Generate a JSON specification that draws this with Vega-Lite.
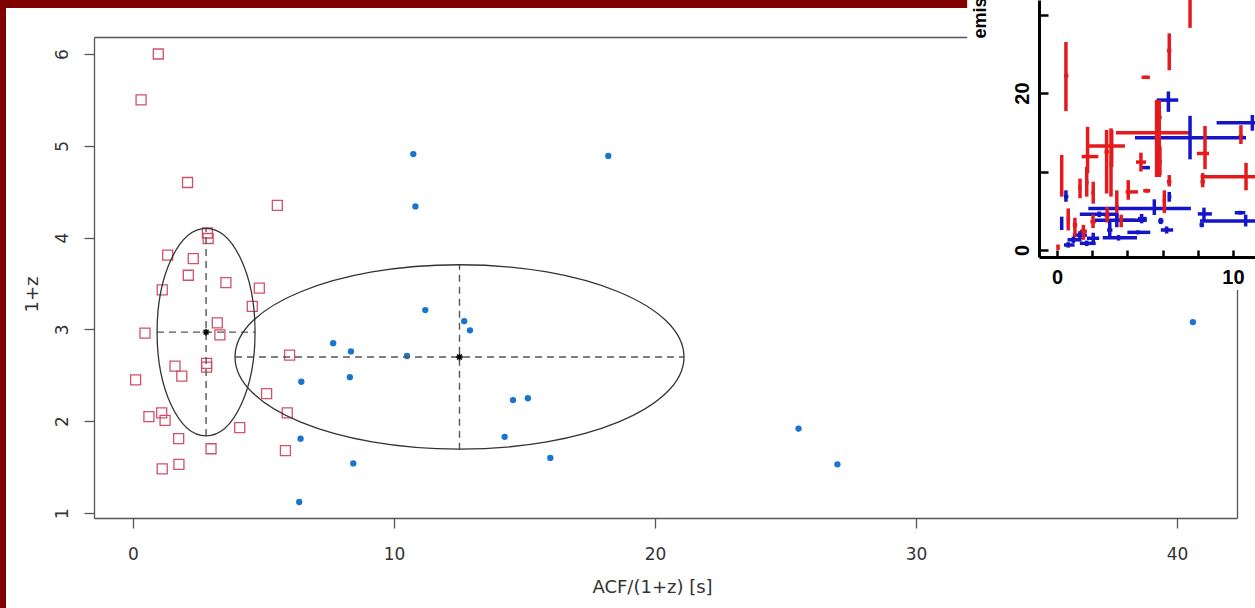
{
  "$schema": "https://vega.github.io/schema/vega-lite/v6.json",
  "width": 1249,
  "height": 600,
  "autosize": {"type": "none"},
  "padding": {"left": 6, "top": 8, "right": 0, "bottom": 0},
  "background": "#800000",
  "config": {"view": {"fill": "white", "stroke": null}, "axis": {"grid": false}},
  "datasets": {
    "red": [
      {"x": 0.97, "y": 6.0}, {"x": 0.31, "y": 5.5}, {"x": 2.09, "y": 4.6}, {"x": 5.53, "y": 4.35},
      {"x": 2.85, "y": 4.05}, {"x": 2.88, "y": 3.99}, {"x": 1.33, "y": 3.81}, {"x": 2.31, "y": 3.77},
      {"x": 2.12, "y": 3.59}, {"x": 3.56, "y": 3.51}, {"x": 4.84, "y": 3.45}, {"x": 1.12, "y": 3.43},
      {"x": 4.57, "y": 3.25}, {"x": 3.23, "y": 3.07}, {"x": 0.46, "y": 2.96}, {"x": 3.33, "y": 2.94},
      {"x": 6.0, "y": 2.72}, {"x": 2.82, "y": 2.63}, {"x": 2.82, "y": 2.59}, {"x": 1.61, "y": 2.6},
      {"x": 1.87, "y": 2.49}, {"x": 0.1, "y": 2.45}, {"x": 5.12, "y": 2.3}, {"x": 5.91, "y": 2.09},
      {"x": 1.1, "y": 2.09}, {"x": 0.61, "y": 2.05}, {"x": 1.23, "y": 2.01}, {"x": 4.09, "y": 1.93},
      {"x": 1.75, "y": 1.81}, {"x": 2.99, "y": 1.7}, {"x": 5.84, "y": 1.68}, {"x": 1.76, "y": 1.53},
      {"x": 1.12, "y": 1.48}
    ],
    "blue": [
      {"x": 7.67, "y": 2.85}, {"x": 8.35, "y": 2.76}, {"x": 10.5, "y": 2.71}, {"x": 6.45, "y": 2.43},
      {"x": 8.31, "y": 2.48}, {"x": 6.42, "y": 1.81}, {"x": 8.44, "y": 1.54}, {"x": 6.37, "y": 1.12},
      {"x": 10.74, "y": 4.91}, {"x": 18.21, "y": 4.89}, {"x": 10.82, "y": 4.34}, {"x": 11.2, "y": 3.21},
      {"x": 12.69, "y": 3.09}, {"x": 12.91, "y": 2.99}, {"x": 14.56, "y": 2.23}, {"x": 15.13, "y": 2.25},
      {"x": 14.24, "y": 1.83}, {"x": 15.99, "y": 1.6}, {"x": 25.5, "y": 1.92}, {"x": 26.99, "y": 1.53},
      {"x": 40.61, "y": 3.08}
    ],
    "dash": [
      {"x": 2.8, "x2": 2.8, "y": 1.84, "y2": 4.1},
      {"x": 0.92, "x2": 4.67, "y": 2.97, "y2": 2.97},
      {"x": 3.91, "x2": 21.11, "y": 2.7, "y2": 2.7},
      {"x": 12.51, "x2": 12.51, "y": 1.69, "y2": 3.7}
    ],
    "c1": [{"x": 2.8, "y": 2.97}],
    "c2": [{"x": 12.51, "y": 2.7}],
    "centers": [{"x": 2.8, "y": 2.97}, {"x": 12.51, "y": 2.7}],
    "ins": [
      {"s": "red", "x": 0.51, "xlo": 0.4, "xhi": 0.65, "y": 22.2, "ylo": 17.7, "yhi": 26.5},
      {"s": "red", "x": 7.56, "xlo": 7.56, "xhi": 7.56, "y": 33, "ylo": 28.3, "yhi": 38},
      {"s": "red", "x": 6.38, "xlo": 6.25, "xhi": 6.5, "y": 25.4, "ylo": 22.9, "yhi": 27.6},
      {"s": "red", "x": 5.05, "xlo": 4.81, "xhi": 5.28, "y": 22.0, "ylo": 21.8, "yhi": 22.2},
      {"s": "red", "x": 5.66, "xlo": 3.35, "xhi": 7.52, "y": 14.95, "ylo": 9.3, "yhi": 19.1},
      {"s": "red", "x": 5.81, "xlo": 5.7, "xhi": 5.95, "y": 16.9, "ylo": 9.3, "yhi": 19.1},
      {"s": "red", "x": 8.41, "xlo": 7.95, "xhi": 8.64, "y": 12.3, "ylo": 10.3, "yhi": 15.8},
      {"s": "red", "x": 10.45, "xlo": 10.3, "xhi": 10.6, "y": 14.4, "ylo": 13.5, "yhi": 15.9},
      {"s": "red", "x": 10.74, "xlo": 8.16, "xhi": 12.5, "y": 9.34, "ylo": 7.6, "yhi": 11.1},
      {"s": "red", "x": 8.28, "xlo": 8.15, "xhi": 8.4, "y": 8.7, "ylo": 8.0, "yhi": 9.8},
      {"s": "red", "x": 3.11, "xlo": 1.78, "xhi": 3.86, "y": 13.25, "ylo": 10.6, "yhi": 15.3},
      {"s": "red", "x": 2.82, "xlo": 2.7, "xhi": 2.95, "y": 12.5, "ylo": 7.2, "yhi": 15.3},
      {"s": "red", "x": 3.07, "xlo": 3.0, "xhi": 3.15, "y": 11.0, "ylo": 6.8, "yhi": 15.5},
      {"s": "red", "x": 1.74, "xlo": 1.4, "xhi": 2.35, "y": 11.9, "ylo": 9.8, "yhi": 15.7},
      {"s": "red", "x": 0.27, "xlo": 0.27, "xhi": 0.27, "y": 9.0, "ylo": 6.8, "yhi": 12.1},
      {"s": "red", "x": 1.31, "xlo": 1.2, "xhi": 1.4, "y": 8.0, "ylo": 6.6, "yhi": 9.1},
      {"s": "red", "x": 1.69, "xlo": 1.6, "xhi": 1.8, "y": 8.6, "ylo": 6.8, "yhi": 10.6},
      {"s": "red", "x": 2.06, "xlo": 1.95, "xhi": 2.15, "y": 7.3, "ylo": 5.9, "yhi": 8.7},
      {"s": "red", "x": 4.77, "xlo": 4.49, "xhi": 5.06, "y": 11.2, "ylo": 10.0, "yhi": 12.4},
      {"s": "red", "x": 5.85, "xlo": 5.75, "xhi": 5.95, "y": 11.25, "ylo": 9.55, "yhi": 13.2},
      {"s": "red", "x": 6.38, "xlo": 6.25, "xhi": 6.5, "y": 8.7, "ylo": 8.1, "yhi": 9.55},
      {"s": "red", "x": 4.05, "xlo": 3.9, "xhi": 4.6, "y": 7.4, "ylo": 6.4, "yhi": 8.9},
      {"s": "red", "x": 5.1, "xlo": 4.9, "xhi": 5.3, "y": 7.55, "ylo": 7.3, "yhi": 7.8},
      {"s": "red", "x": 6.1, "xlo": 6.0, "xhi": 6.2, "y": 6.3, "ylo": 4.7, "yhi": 7.6},
      {"s": "red", "x": 0.64, "xlo": 0.55, "xhi": 0.75, "y": 4.0, "ylo": 2.5, "yhi": 5.3},
      {"s": "red", "x": 1.02, "xlo": 0.9, "xhi": 1.15, "y": 3.2, "ylo": 1.6, "yhi": 4.1},
      {"s": "red", "x": 1.5, "xlo": 1.3, "xhi": 1.7, "y": 2.4, "ylo": 1.3, "yhi": 3.2},
      {"s": "red", "x": 2.05, "xlo": 1.9, "xhi": 2.2, "y": 3.6, "ylo": 2.8, "yhi": 4.5},
      {"s": "red", "x": 2.85, "xlo": 2.7, "xhi": 3.0, "y": 4.4, "ylo": 3.5, "yhi": 5.5},
      {"s": "red", "x": 3.4, "xlo": 3.3, "xhi": 3.5, "y": 5.5, "ylo": 4.1, "yhi": 7.6},
      {"s": "red", "x": 0.06, "xlo": 0.0, "xhi": 0.1, "y": 0.3, "ylo": 0.0, "yhi": 0.7},
      {"s": "red", "x": 3.65, "xlo": 3.3, "xhi": 4.45, "y": 3.8, "ylo": 2.9, "yhi": 4.5},
      {"s": "blue", "x": 0.51, "xlo": 0.4, "xhi": 0.65, "y": 6.8, "ylo": 6.15, "yhi": 7.6},
      {"s": "blue", "x": 6.33, "xlo": 5.66, "xhi": 6.89, "y": 19.1, "ylo": 17.6, "yhi": 20.2},
      {"s": "blue", "x": 7.56, "xlo": 4.43, "xhi": 10.74, "y": 14.3, "ylo": 11.55, "yhi": 17.1},
      {"s": "blue", "x": 11.1, "xlo": 9.07, "xhi": 13.0, "y": 16.2, "ylo": 15.2, "yhi": 17.2},
      {"s": "blue", "x": 5.1, "xlo": 4.81, "xhi": 5.28, "y": 10.5, "ylo": 10.3, "yhi": 10.7},
      {"s": "blue", "x": 6.38, "xlo": 6.3, "xhi": 6.5, "y": 6.8, "ylo": 6.15, "yhi": 7.4},
      {"s": "blue", "x": 5.53, "xlo": 1.78, "xhi": 7.61, "y": 5.3, "ylo": 4.46, "yhi": 6.46},
      {"s": "blue", "x": 2.4, "xlo": 1.3, "xhi": 3.4, "y": 4.55, "ylo": 4.2, "yhi": 4.9},
      {"s": "blue", "x": 3.4, "xlo": 2.16, "xhi": 5.1, "y": 3.8, "ylo": 2.9, "yhi": 4.7},
      {"s": "blue", "x": 4.81, "xlo": 4.6, "xhi": 5.1, "y": 4.0, "ylo": 3.4, "yhi": 4.6},
      {"s": "blue", "x": 5.9, "xlo": 5.75, "xhi": 6.05, "y": 3.7, "ylo": 3.3, "yhi": 4.1},
      {"s": "blue", "x": 6.23, "xlo": 5.9, "xhi": 6.6, "y": 2.55, "ylo": 2.1, "yhi": 3.0},
      {"s": "blue", "x": 4.6, "xlo": 4.0, "xhi": 5.3, "y": 2.25, "ylo": 2.0, "yhi": 2.5},
      {"s": "blue", "x": 3.5, "xlo": 2.6, "xhi": 4.55, "y": 1.57, "ylo": 1.2, "yhi": 1.9},
      {"s": "blue", "x": 0.27, "xlo": 0.27, "xhi": 0.27, "y": 3.4, "ylo": 2.55, "yhi": 4.25},
      {"s": "blue", "x": 0.93, "xlo": 0.6, "xhi": 1.4, "y": 1.3, "ylo": 0.9, "yhi": 1.7},
      {"s": "blue", "x": 1.3, "xlo": 0.9, "xhi": 1.7, "y": 1.9, "ylo": 1.4, "yhi": 2.4},
      {"s": "blue", "x": 1.69, "xlo": 1.3, "xhi": 2.2, "y": 0.85, "ylo": 0.5, "yhi": 1.2},
      {"s": "blue", "x": 2.06, "xlo": 1.7, "xhi": 2.4, "y": 1.5, "ylo": 1.0, "yhi": 2.2},
      {"s": "blue", "x": 0.64, "xlo": 0.4, "xhi": 1.0, "y": 0.64, "ylo": 0.3, "yhi": 1.0},
      {"s": "blue", "x": 3.0, "xlo": 2.85, "xhi": 3.15, "y": 2.55, "ylo": 1.6, "yhi": 3.6},
      {"s": "blue", "x": 8.35, "xlo": 8.0, "xhi": 8.8, "y": 4.6, "ylo": 3.8, "yhi": 5.4},
      {"s": "blue", "x": 10.72, "xlo": 8.13, "xhi": 12.5, "y": 3.7, "ylo": 3.0, "yhi": 4.5},
      {"s": "blue", "x": 10.4, "xlo": 10.1, "xhi": 10.7, "y": 4.75, "ylo": 4.5, "yhi": 5.0},
      {"s": "blue", "x": 8.22, "xlo": 8.1, "xhi": 8.35, "y": 3.2, "ylo": 2.9, "yhi": 3.5}
    ]
  },
  "layer": [
    {
      "layer": [
        {
          "data": {"name": "red"},
          "mark": {"type": "point", "shape": "square", "filled": false, "stroke": "#d2506a", "strokeWidth": 1.3, "size": 100, "opacity": 1},
          "encoding": {
            "x": {
              "field": "x", "type": "quantitative",
              "scale": {"domain": [-1.494, 42.3], "range": [88, 1231], "nice": false, "zero": false},
              "axis": {
                "orient": "bottom", "offset": -90, "values": [0, 10, 20, 30, 40],
                "title": "ACF/(1+z) [s]",
                "domainColor": "#555", "domainWidth": 1.3, "tickColor": "#555", "tickSize": 10, "tickWidth": 1.3,
                "labelFont": "DejaVu Sans", "labelFontSize": 17, "labelColor": "#333", "labelPadding": 18,
                "labelFlush": false, "labelOverlap": false,
                "titleFont": "DejaVu Sans", "titleFontSize": 18, "titleFontWeight": "normal", "titleColor": "#333",
                "titleX": 646, "titleY": 69, "titleBaseline": "middle", "titleAlign": "center"
              }
            },
            "y": {
              "field": "y", "type": "quantitative",
              "scale": {"domain": [0.9455, 6.185], "range": [510, 29], "nice": false, "zero": false},
              "axis": {
                "orient": "left", "offset": -88, "values": [1, 2, 3, 4, 5, 6],
                "title": "1+z",
                "domainColor": "#555", "domainWidth": 1.3, "tickColor": "#555", "tickSize": 10, "tickWidth": 1.3,
                "labelFont": "DejaVu Sans", "labelFontSize": 17, "labelColor": "#333", "labelPadding": 17,
                "labelAngle": -90, "labelAlign": "center", "labelBaseline": "alphabetic",
                "labelFlush": false, "labelOverlap": false,
                "titleFont": "DejaVu Sans", "titleFontSize": 18, "titleFontWeight": "normal", "titleColor": "#333",
                "titleAngle": -90, "titleX": -62, "titleY": 286, "titleBaseline": "middle", "titleAlign": "center"
              }
            }
          }
        },
        {
          "data": {"name": "blue"},
          "mark": {"type": "circle", "color": "#1874CD", "size": 40, "opacity": 1},
          "encoding": {
            "x": {"field": "x", "type": "quantitative",
              "axis": {"orient": "top", "offset": -29, "ticks": false, "labels": false, "title": null, "domainColor": "#555", "domainWidth": 1.3}},
            "y": {"field": "y", "type": "quantitative",
              "axis": {"orient": "right", "offset": -18, "ticks": false, "labels": false, "title": null, "domainColor": "#555", "domainWidth": 1.3}}
          }
        },
        {
          "data": {"name": "dash"},
          "mark": {"type": "rule", "strokeDash": [7, 5], "color": "#555", "strokeWidth": 1.4},
          "encoding": {
            "x": {"field": "x", "type": "quantitative", "axis": null},
            "x2": {"field": "x2"},
            "y": {"field": "y", "type": "quantitative", "axis": null},
            "y2": {"field": "y2"}
          }
        },
        {
          "data": {"name": "c1"},
          "mark": {"type": "point", "shape": "M0,-1A0.4725,1,0,1,1,0,1A0.4725,1,0,1,1,0,-1Z", "size": 43015, "filled": false, "stroke": "#333", "strokeWidth": 1.3, "opacity": 1},
          "encoding": {
            "x": {"field": "x", "type": "quantitative", "axis": null},
            "y": {"field": "y", "type": "quantitative", "axis": null}
          }
        },
        {
          "data": {"name": "c2"},
          "mark": {"type": "point", "shape": "M-1,0A1,0.4107,0,1,1,1,0A1,0.4107,0,1,1,-1,0Z", "size": 201601, "filled": false, "stroke": "#333", "strokeWidth": 1.3, "opacity": 1},
          "encoding": {
            "x": {"field": "x", "type": "quantitative", "axis": null},
            "y": {"field": "y", "type": "quantitative", "axis": null}
          }
        },
        {
          "data": {"name": "centers"},
          "mark": {"type": "point", "shape": "M-1,0L1,0M0,-1L0,1M-0.7,-0.7L0.7,0.7M-0.7,0.7L0.7,-0.7", "size": 49, "filled": false, "stroke": "black", "strokeWidth": 1.4, "opacity": 1},
          "encoding": {
            "x": {"field": "x", "type": "quantitative", "axis": null},
            "y": {"field": "y", "type": "quantitative", "axis": null}
          }
        }
      ],
      "resolve": {"axis": {"x": "independent", "y": "independent"}}
    },
    {
      "layer": [
        {
          "data": {"values": [{}]},
          "mark": {"type": "rect", "color": "white"},
          "encoding": {
            "x": {"datum": -5.1, "type": "quantitative", "axis": null},
            "x2": {"datum": 11.6},
            "y": {"datum": -5.1, "type": "quantitative", "axis": null},
            "y2": {"datum": 33}
          }
        },
        {
          "data": {"name": "ins"},
          "mark": {"type": "rule", "strokeWidth": 3.5},
          "encoding": {
            "x": {
              "field": "xlo", "type": "quantitative",
              "scale": {"domain": [-1.02, 11.25], "range": [1033, 1249], "nice": false, "zero": false},
              "axis": {
                "orient": "bottom", "offset": -351, "values": [0, 2, 4, 6, 8, 10],
                "labelExpr": "datum.value == 0 || datum.value == 10 ? datum.label : ''",
                "domainColor": "black", "domainWidth": 3, "tickColor": "black", "tickWidth": 2.5, "tickSize": -7,
                "labelFont": "Liberation Sans", "labelFontWeight": "bold", "labelFontSize": 20, "labelColor": "black",
                "labelPadding": 17, "labelFlush": false, "labelOverlap": false, "title": null, "zindex": 1
              }
            },
            "x2": {"field": "xhi"},
            "y": {
              "field": "y", "type": "quantitative",
              "scale": {"domain": [-0.89, 31.85], "range": [249, -8], "nice": false, "zero": false},
              "axis": {
                "orient": "left", "offset": -1033, "values": [0, 10, 20, 30],
                "labelExpr": "datum.value == 0 || datum.value == 20 ? datum.label : ''",
                "domainColor": "black", "domainWidth": 3, "tickColor": "black", "tickWidth": 2.5, "tickSize": -9,
                "labelFont": "Liberation Sans", "labelFontWeight": "bold", "labelFontSize": 20, "labelColor": "black",
                "labelPadding": 20, "labelAngle": -90, "labelAlign": "center", "labelBaseline": "alphabetic",
                "labelFlush": false, "labelOverlap": false,
                "title": "emission", "titleFont": "Liberation Sans", "titleFontWeight": "bold", "titleFontSize": 18, "titleColor": "black",
                "titleAngle": -90, "titleAlign": "left", "titleBaseline": "middle", "titleX": -59, "titleY": 30,
                "zindex": 1
              }
            },
            "color": {"field": "s", "type": "nominal", "scale": {"domain": ["red", "blue"], "range": ["#e41a1c", "#1515c8"]}, "legend": null}
          }
        },
        {
          "data": {"name": "ins"},
          "mark": {"type": "rule", "strokeWidth": 3.5},
          "encoding": {
            "x": {"field": "x", "type": "quantitative", "axis": null},
            "y": {"field": "ylo", "type": "quantitative", "axis": null},
            "y2": {"field": "yhi"},
            "color": {"field": "s", "type": "nominal", "legend": null}
          }
        }
      ],
      "resolve": {"axis": {"x": "independent", "y": "independent"}}
    }
  ],
  "resolve": {"scale": {"x": "independent", "y": "independent"}}
}
